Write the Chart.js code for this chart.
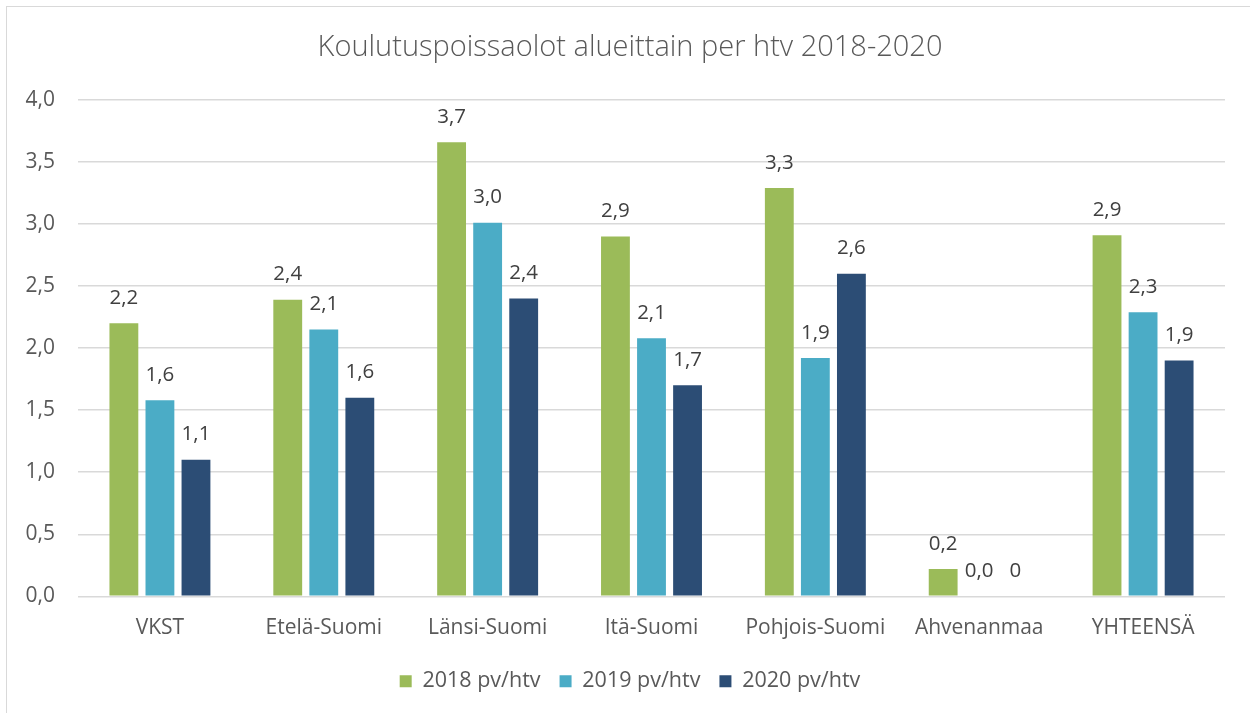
<!DOCTYPE html>
<html>
<head>
<meta charset="utf-8">
<script src="https://cdn.jsdelivr.net/npm/chart.js@4.4.0/dist/chart.umd.min.js"></script>
<style>
  html, body { margin: 0; padding: 0; background: #fff; }
  #wrap { position: relative; width: 1250px; height: 713px; }
  #frame { position: absolute; left: 6px; top: 6px; width: 1300px; height: 800px;
           border-left: 1px solid #d9d9d9; border-top: 1px solid #d9d9d9; }
</style>
</head>
<body>
<div id="wrap">
  <div id="frame"></div>
  <canvas id="myChart"></canvas>
</div>
<script>
const chartTitle = 'Koulutuspoissaolot alueittain per htv 2018-2020';
const regions = ['VKST', 'Etelä-Suomi', 'Länsi-Suomi', 'Itä-Suomi', 'Pohjois-Suomi', 'Ahvenanmaa', 'YHTEENSÄ'];
const values2018 = [2.20, 2.39, 3.66, 2.90, 3.29, 0.22, 2.91];
const values2019 = [1.58, 2.15, 3.01, 2.08, 1.92, 0.00, 2.29];
const values2020 = [1.10, 1.60, 2.40, 1.70, 2.60, 0, 1.90];
const yTicks = [0, 0.5, 1, 1.5, 2, 2.5, 3, 3.5, 4];

const fmt = v => v.toFixed(1).replace('.', ',');

// value labels above bars (2020 zero shows as plain "0" like the original)
const barLabels = {
  id: 'barLabels',
  afterDatasetsDraw(chart) {
    const ctx = chart.ctx;
    ctx.save();
    ctx.font = '20.5px "Open Sans"';
    ctx.fillStyle = '#404040';
    ctx.textAlign = 'center';
    ctx.textBaseline = 'bottom';
    chart.data.datasets.forEach((ds, i) => {
      chart.getDatasetMeta(i).data.forEach((bar, j) => {
        const v = ds.data[j];
        const txt = (i === 2 && v === 0) ? '0' : fmt(v);
        ctx.fillText(txt, bar.x, bar.y - 15);
      });
    });
    ctx.restore();
  }
};

// title drawn by hand so it sits where the original one is
const titleText = {
  id: 'titleText',
  afterDraw(chart) {
    const ctx = chart.ctx;
    ctx.save();
    ctx.font = '300 29px "Open Sans"';
    ctx.fillStyle = '#595959';
    ctx.textAlign = 'center';
    ctx.textBaseline = 'middle';
    ctx.fillText(chartTitle, 630, 48);
    ctx.restore();
  }
};

const data = {
  labels: regions,
  datasets: [
    { label: '2018 pv/htv', data: values2018, backgroundColor: '#9BBB59' },
    { label: '2019 pv/htv', data: values2019, backgroundColor: '#4BACC6' },
    { label: '2020 pv/htv', data: values2020, backgroundColor: '#2C4D75' }
  ]
};

const config = {
  type: 'bar',
  data,
  options: {
    responsive: false,
    animation: false,
    maintainAspectRatio: false,
    barPercentage: 0.8,
    categoryPercentage: 0.66,
    layout: { padding: { left: 10, right: 0, top: 100, bottom: 11 } },
    plugins: {
      tooltip: { enabled: false },
      title: { display: false },
      legend: {
        position: 'bottom',
        labels: {
          color: '#595959',
          font: { family: '"Open Sans"', size: 21.5 },
          boxWidth: 12,
          boxHeight: 12,
          padding: 19
        }
      }
    },
    scales: {
      x: {
        grid: { display: false },
        border: { display: false },
        ticks: { color: '#595959', font: { family: '"Open Sans"', size: 21 }, padding: 11, maxRotation: 0 }
      },
      y: {
        min: 0,
        max: 4,
        afterBuildTicks: s => { s.ticks = yTicks.map(v => ({ value: v })); },
        afterFit: s => { s.width = 68; },
        grid: { color: '#d9d9d9', lineWidth: 1.5, drawTicks: false },
        border: { display: false },
        ticks: { color: '#595959', font: { family: '"Open Sans"', size: 21 }, padding: 23, callback: v => fmt(v) }
      },
      // empty right-hand spacer, keeps the plot right edge where the original has it
      yRight: {
        position: 'right',
        display: true,
        afterFit: s => { s.width = 25; },
        grid: { display: false },
        border: { display: false },
        ticks: { display: false }
      }
    }
  },
  plugins: [barLabels, titleText]
};

const canvas = document.getElementById('myChart');
canvas.width = 1250;
canvas.height = 713;
new Chart(canvas.getContext('2d'), config);
</script>
</body>
</html>
